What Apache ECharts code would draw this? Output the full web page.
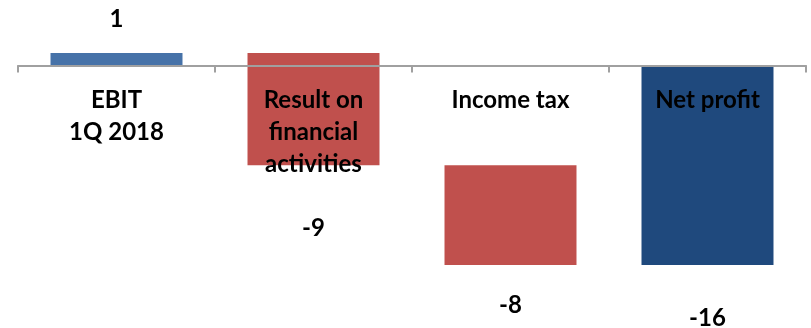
<!DOCTYPE html>
<html>
<head>
<meta charset="utf-8">
<script src="https://cdn.jsdelivr.net/npm/echarts@6/dist/echarts.min.js"></script>
<style>
  html, body { margin: 0; padding: 0; background: #ffffff; }
  #chart { width: 811px; height: 328px; }
</style>
</head>
<body>
<div id="chart"></div>
<script>
// Waterfall: EBIT to net profit, 1Q 2018
const categories = ['EBIT\n1Q 2018', 'Result on\nfinancial\nactivities', 'Income tax', 'Net profit'];
const values = [1, -9, -8, -16];
const kinds = ['total', 'delta', 'delta', 'total'];
const colors = ['#4672A8', '#C0504D', '#C0504D', '#1F497D'];

// Build [index, low, high, value] rows from running totals
const rows = [];
let running = 0;
values.forEach(function (v, i) {
  let start = kinds[i] === 'total' ? 0 : running;
  let end = start + v;
  running = end;
  rows.push([i, Math.min(start, end), Math.max(start, end), v]);
});

// Label distance from the bar end (pixels, to label centre)
const labelGap = [34, 63, 40, 53];

const chart = echarts.init(document.getElementById('chart'));
const font = 'Lato, "Open Sans", sans-serif';

chart.setOption({
  animation: false,
  grid: { left: 18, right: 5, top: 53, height: 212, containLabel: false, outerBoundsMode: 'none' },
  xAxis: {
    type: 'category',
    data: categories,
    z: 5,
    axisLine: { onZero: true, lineStyle: { color: '#A0A0A0', width: 2 } },
    axisTick: { show: true, length: 7, lineStyle: { color: '#A0A0A0', width: 2 } },
    axisLabel: {
      // category names sit just under the zero line
      margin: -181,
      color: '#000',
      fontFamily: font,
      fontWeight: 'bold',
      fontSize: 24,
      lineHeight: 32
    },
    splitLine: { show: false }
  },
  yAxis: {
    type: 'value',
    min: -16,
    max: 1,
    show: false,
    splitLine: { show: false }
  },
  series: [{
    type: 'custom',
    data: rows,
    encode: { x: 0, y: [1, 2] },
    renderItem: function (params, api) {
      const i = api.value(0);
      const lo = api.value(1);
      const hi = api.value(2);
      const v = api.value(3);
      const pTop = api.coord([i, hi]);
      const pBot = api.coord([i, lo]);
      const w = api.size([1, 0])[0] * 0.67;
      const ty = v > 0 ? pTop[1] - labelGap[i] : pBot[1] + labelGap[i];
      return {
        type: 'group',
        children: [{
          type: 'rect',
          shape: { x: pTop[0] - w / 2, y: pTop[1], width: w, height: pBot[1] - pTop[1] },
          style: { fill: colors[i] }
        }, {
          type: 'text',
          x: pTop[0],
          y: ty,
          style: {
            text: String(v),
            fill: '#000',
            font: 'bold 24px ' + font,
            align: 'center',
            verticalAlign: 'middle'
          }
        }]
      };
    }
  }]
});
</script>
</body>
</html>
